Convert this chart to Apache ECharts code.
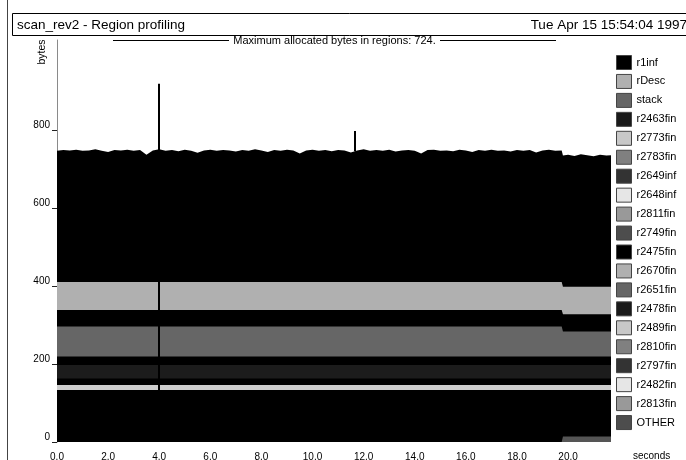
<!DOCTYPE html>
<html>
<head>
<meta charset="utf-8">
<script src="https://cdn.jsdelivr.net/npm/echarts@6/dist/echarts.min.js"></script>
<style>
  html, body { margin: 0; padding: 0; background: #fff; }
  #chart { width: 686px; height: 460px; }
</style>
</head>
<body>
<div id="chart"></div>
<script>
// Sample times, seconds
const seconds = [
  0,0.25,0.5,0.75,1,1.25,1.5,1.75,2,2.25,2.5,2.75,3,3.25,3.5,3.75,4,4.25,4.5,4.75,
  5,5.25,5.5,5.75,6,6.25,6.5,6.75,7,7.25,7.5,7.75,8,8.25,8.5,8.75,9,9.25,9.5,9.75,
  10,10.25,10.5,10.75,11,11.25,11.5,11.75,12,12.25,12.5,12.75,13,13.25,13.5,13.75,14,14.25,14.5,14.75,
  15,15.25,15.5,15.75,16,16.25,16.5,16.75,17,17.25,17.5,17.75,18,18.25,18.5,18.75,19,19.25,19.5,19.75,
  19.8,20,20.25,20.5,20.75,21,21.25,21.5,21.68
];

// Bytes held in each region at every sample
const r1inf = [
  336,338,337,339,336,337,340,336,333,338,337,339,336,338,326,337,340,336,338,335,
  339,336,331,337,339,336,338,337,334,338,336,340,337,333,338,336,339,337,329,337,
  339,336,338,335,338,337,332,337,340,336,338,336,339,334,337,338,336,329,338,339,
  336,337,335,339,337,333,338,336,339,336,337,334,338,336,338,332,337,339,336,337,
  336,338,335,339,337,334,338,336,337
];
const rDesc = [
  72,72,72,72,72,72,72,72,72,72,72,72,72,72,72,72,72,72,72,72,
  72,72,72,72,72,72,72,72,72,72,72,72,72,72,72,72,72,72,72,72,
  72,72,72,72,72,72,72,72,72,72,72,72,72,72,72,72,72,72,72,72,
  72,72,72,72,72,72,72,72,72,72,72,72,72,72,72,72,72,72,72,72,
  71,71,71,71,71,71,71,71,71
];
const r2475fin = [
  42,42,42,42,42,42,42,42,42,42,42,42,42,42,42,42,42,42,42,42,
  42,42,42,42,42,42,42,42,42,42,42,42,42,42,42,42,42,42,42,42,
  42,42,42,42,42,42,42,42,42,42,42,42,42,42,42,42,42,42,42,42,
  42,42,42,42,42,42,42,42,42,42,42,42,42,42,42,42,42,42,42,42,
  44,44,44,44,44,44,44,44,44
];
const stack = [
  77,77,77,77,77,77,77,77,77,77,77,77,77,77,77,77,77,77,77,77,
  77,77,77,77,77,77,77,77,77,77,77,77,77,77,77,77,77,77,77,77,
  77,77,77,77,77,77,77,77,77,77,77,77,77,77,77,77,77,77,77,77,
  77,77,77,77,77,77,77,77,77,77,77,77,77,77,77,77,77,77,77,77,
  64,64,64,64,64,64,64,64,64
];
const r2478fin = [
  22,22,22,22,22,22,22,22,22,22,22,22,22,22,22,22,22,22,22,22,
  22,22,22,22,22,22,22,22,22,22,22,22,22,22,22,22,22,22,22,22,
  22,22,22,22,22,22,22,22,22,22,22,22,22,22,22,22,22,22,22,22,
  22,22,22,22,22,22,22,22,22,22,22,22,22,22,22,22,22,22,22,22,
  22,22,22,22,22,22,22,22,22
];
const r2463fin = [
  34,34,34,34,34,34,34,34,34,34,34,34,34,34,34,34,34,34,34,34,
  34,34,34,34,34,34,34,34,34,34,34,34,34,34,34,34,34,34,34,34,
  34,34,34,34,34,34,34,34,34,34,34,34,34,34,34,34,34,34,34,34,
  34,34,34,34,34,34,34,34,34,34,34,34,34,34,34,34,34,34,34,34,
  34,34,34,34,34,34,34,34,34
];
const r2797fin = [
  17,17,17,17,17,17,17,17,17,17,17,17,17,17,17,17,17,17,17,17,
  17,17,17,17,17,17,17,17,17,17,17,17,17,17,17,17,17,17,17,17,
  17,17,17,17,17,17,17,17,17,17,17,17,17,17,17,17,17,17,17,17,
  17,17,17,17,17,17,17,17,17,17,17,17,17,17,17,17,17,17,17,17,
  17,17,17,17,17,17,17,17,17
];
const r2773fin = [
  13,13,13,13,13,13,13,13,13,13,13,13,13,13,13,13,13,13,13,13,
  13,13,13,13,13,13,13,13,13,13,13,13,13,13,13,13,13,13,13,13,
  13,13,13,13,13,13,13,13,13,13,13,13,13,13,13,13,13,13,13,13,
  13,13,13,13,13,13,13,13,13,13,13,13,13,13,13,13,13,13,13,13,
  13,13,13,13,13,13,13,13,13
];
const r2783fin = [
  12,12,12,12,12,12,12,12,12,12,12,12,12,12,12,12,12,12,12,12,
  12,12,12,12,12,12,12,12,12,12,12,12,12,12,12,12,12,12,12,12,
  12,12,12,12,12,12,12,12,12,12,12,12,12,12,12,12,12,12,12,12,
  12,12,12,12,12,12,12,12,12,12,12,12,12,12,12,12,12,12,12,12,
  12,12,12,12,12,12,12,12,12
];
const r2649inf = [
  12,12,12,12,12,12,12,12,12,12,12,12,12,12,12,12,12,12,12,12,
  12,12,12,12,12,12,12,12,12,12,12,12,12,12,12,12,12,12,12,12,
  12,12,12,12,12,12,12,12,12,12,12,12,12,12,12,12,12,12,12,12,
  12,12,12,12,12,12,12,12,12,12,12,12,12,12,12,12,12,12,12,12,
  12,12,12,12,12,12,12,12,12
];
const r2648inf = [
  11,11,11,11,11,11,11,11,11,11,11,11,11,11,11,11,11,11,11,11,
  11,11,11,11,11,11,11,11,11,11,11,11,11,11,11,11,11,11,11,11,
  11,11,11,11,11,11,11,11,11,11,11,11,11,11,11,11,11,11,11,11,
  11,11,11,11,11,11,11,11,11,11,11,11,11,11,11,11,11,11,11,11,
  11,11,11,11,11,11,11,11,11
];
const r2811fin = [
  12,12,12,12,12,12,12,12,12,12,12,12,12,12,12,12,12,12,12,12,
  12,12,12,12,12,12,12,12,12,12,12,12,12,12,12,12,12,12,12,12,
  12,12,12,12,12,12,12,12,12,12,12,12,12,12,12,12,12,12,12,12,
  12,12,12,12,12,12,12,12,12,12,12,12,12,12,12,12,12,12,12,12,
  12,12,12,12,12,12,12,12,12
];
const r2749fin = [
  11,11,11,11,11,11,11,11,11,11,11,11,11,11,11,11,11,11,11,11,
  11,11,11,11,11,11,11,11,11,11,11,11,11,11,11,11,11,11,11,11,
  11,11,11,11,11,11,11,11,11,11,11,11,11,11,11,11,11,11,11,11,
  11,11,11,11,11,11,11,11,11,11,11,11,11,11,11,11,11,11,11,11,
  11,11,11,11,11,11,11,11,11
];
const r2670fin = [
  11,11,11,11,11,11,11,11,11,11,11,11,11,11,11,11,11,11,11,11,
  11,11,11,11,11,11,11,11,11,11,11,11,11,11,11,11,11,11,11,11,
  11,11,11,11,11,11,11,11,11,11,11,11,11,11,11,11,11,11,11,11,
  11,11,11,11,11,11,11,11,11,11,11,11,11,11,11,11,11,11,11,11,
  11,11,11,11,11,11,11,11,11
];
const r2651fin = [
  12,12,12,12,12,12,12,12,12,12,12,12,12,12,12,12,12,12,12,12,
  12,12,12,12,12,12,12,12,12,12,12,12,12,12,12,12,12,12,12,12,
  12,12,12,12,12,12,12,12,12,12,12,12,12,12,12,12,12,12,12,12,
  12,12,12,12,12,12,12,12,12,12,12,12,12,12,12,12,12,12,12,12,
  12,12,12,12,12,12,12,12,12
];
const r2489fin = [
  10,10,10,10,10,10,10,10,10,10,10,10,10,10,10,10,10,10,10,10,
  10,10,10,10,10,10,10,10,10,10,10,10,10,10,10,10,10,10,10,10,
  10,10,10,10,10,10,10,10,10,10,10,10,10,10,10,10,10,10,10,10,
  10,10,10,10,10,10,10,10,10,10,10,10,10,10,10,10,10,10,10,10,
  10,10,10,10,10,10,10,10,10
];
const r2810fin = [
  12,12,12,12,12,12,12,12,12,12,12,12,12,12,12,12,12,12,12,12,
  12,12,12,12,12,12,12,12,12,12,12,12,12,12,12,12,12,12,12,12,
  12,12,12,12,12,12,12,12,12,12,12,12,12,12,12,12,12,12,12,12,
  12,12,12,12,12,12,12,12,12,12,12,12,12,12,12,12,12,12,12,12,
  12,12,12,12,12,12,12,12,12
];
const r2482fin = [
  10,10,10,10,10,10,10,10,10,10,10,10,10,10,10,10,10,10,10,10,
  10,10,10,10,10,10,10,10,10,10,10,10,10,10,10,10,10,10,10,10,
  10,10,10,10,10,10,10,10,10,10,10,10,10,10,10,10,10,10,10,10,
  10,10,10,10,10,10,10,10,10,10,10,10,10,10,10,10,10,10,10,10,
  10,10,10,10,10,10,10,10,10
];
const r2813fin = [
  20,20,20,20,20,20,20,20,20,20,20,20,20,20,20,20,20,20,20,20,
  20,20,20,20,20,20,20,20,20,20,20,20,20,20,20,20,20,20,20,20,
  20,20,20,20,20,20,20,20,20,20,20,20,20,20,20,20,20,20,20,20,
  20,20,20,20,20,20,20,20,20,20,20,20,20,20,20,20,20,20,20,20,
  6,6,6,6,6,6,6,6,6
];
const OTHER = [
  0,0,0,0,0,0,0,0,0,0,0,0,0,0,0,0,0,0,0,0,
  0,0,0,0,0,0,0,0,0,0,0,0,0,0,0,0,0,0,0,0,
  0,0,0,0,0,0,0,0,0,0,0,0,0,0,0,0,0,0,0,0,
  0,0,0,0,0,0,0,0,0,0,0,0,0,0,0,0,0,0,0,0,
  14,14,14,14,14,14,14,14,14
];

// Short allocation peaks: [time, from bytes, to bytes]
const peaks = [
  [4.0, 0, 918],
  [11.66, 745, 797]
];

// Axis tick values
const secondTicks = [0, 2, 4, 6, 8, 10, 12, 14, 16, 18, 20];
const byteTicks = [0, 200, 400, 600, 800];

// Legend order (as listed by the profiler)
const legendOrder = ['r1inf','rDesc','stack','r2463fin','r2773fin','r2783fin','r2649inf','r2648inf','r2811fin','r2749fin',
                     'r2475fin','r2670fin','r2651fin','r2478fin','r2489fin','r2810fin','r2797fin','r2482fin','r2813fin','OTHER'];

// Stacking order, bottom to top
const bands = [
  ['OTHER', OTHER], ['r2813fin', r2813fin], ['r2482fin', r2482fin], ['r2810fin', r2810fin],
  ['r2489fin', r2489fin], ['r2651fin', r2651fin], ['r2670fin', r2670fin], ['r2749fin', r2749fin],
  ['r2811fin', r2811fin], ['r2648inf', r2648inf], ['r2649inf', r2649inf], ['r2783fin', r2783fin],
  ['r2773fin', r2773fin], ['r2797fin', r2797fin], ['r2463fin', r2463fin], ['r2478fin', r2478fin],
  ['stack', stack], ['r2475fin', r2475fin], ['rDesc', rDesc], ['r1inf', r1inf]
];

// Gray-level palette cycled over the legend
const grayCycle = ['#000000','#b0b0b0','#666666','#1a1a1a','#c8c8c8','#808080','#333333','#e6e6e6','#999999','#4d4d4d'];
const legendColor = {};
legendOrder.forEach((n, i) => { legendColor[n] = grayCycle[i % grayCycle.length]; });

// Fill used for the bands; thin, fast-changing regions render as solid black
const bandFill = { rDesc: '#b0b0b0', stack: '#666666', r2463fin: '#1c1c1c', r2773fin: '#cdcdcd', OTHER: '#555555' };

const FONT = '"Liberation Sans", Arial, Helvetica, sans-serif';

// Cumulative tops for each band
let running = seconds.map(() => 0);
const layers = bands.map(([name, vals]) => {
  running = running.map((s, i) => s + vals[i]);
  return { name, tops: running.slice() };
});

// Draw the tallest layer first so lower layers paint over it
const series = layers.slice().reverse().map(layer => {
  const s = {
    name: layer.name,
    type: 'line',
    data: seconds.map((t, i) => [t, layer.tops[i]]),
    showSymbol: false,
    symbol: 'none',
    silent: true,
    animation: false,
    lineStyle: { width: 0, color: legendColor[layer.name] },
    itemStyle: { color: legendColor[layer.name] },
    areaStyle: { color: bandFill[layer.name] || '#000000', opacity: 1 },
    emphasis: { disabled: true }
  };
  if (layer.name === 'r1inf') {
    s.markLine = {
      silent: true,
      symbol: 'none',
      animation: false,
      label: { show: false },
      lineStyle: { color: '#000', width: 2, type: 'solid' },
      data: peaks.map(([t, a, b]) => [{ coord: [t, a] }, { coord: [t, b] }])
    };
  }
  return s;
});

const chart = echarts.init(document.getElementById('chart'), null, { renderer: 'canvas' });
chart.setOption({
  animation: false,
  backgroundColor: '#ffffff',
  textStyle: { fontFamily: FONT },
  grid: { left: 57, right: 75, top: 40, bottom: 18, containLabel: false, outerBoundsMode: 'none' },
  xAxis: {
    type: 'value', min: 0, max: 21.68, interval: 2,
    axisLine: { show: false },
    axisTick: { show: false },
    splitLine: { show: false },
    axisLabel: { customValues: secondTicks, formatter: v => v.toFixed(1), fontSize: 10, color: '#000', margin: 10, fontFamily: FONT }
  },
  yAxis: {
    type: 'value', min: 0, max: 1030, interval: 200,
    axisLine: { show: true, lineStyle: { color: '#8a8a8a', width: 1 } },
    axisTick: { show: true, customValues: byteTicks, length: 5, lineStyle: { color: '#222' } },
    axisLabel: { customValues: byteTicks, fontSize: 10, color: '#000', margin: 7, verticalAlign: 'bottom', fontFamily: FONT },
    splitLine: { show: false }
  },
  legend: {
    orient: 'vertical', left: 616, top: 55, padding: 0,
    itemWidth: 15, itemHeight: 14, itemGap: 3.95,
    icon: 'rect', data: legendOrder, selectedMode: false,
    itemStyle: { borderColor: '#444', borderWidth: 1 },
    textStyle: { fontSize: 11, lineHeight: 12, color: '#000', fontFamily: FONT }
  },
  graphic: [
    { type: 'line', shape: { x1: 7.5, y1: 0, x2: 7.5, y2: 460 }, style: { stroke: '#444', lineWidth: 1 } },
    { type: 'rect', shape: { x: 12.5, y: 13.5, width: 700, height: 22 }, style: { fill: null, stroke: '#000', lineWidth: 1 } },
    { type: 'text', x: 17, y: 25, style: { text: 'scan_rev2 - Region profiling', fontSize: 13.5, fontFamily: FONT, fill: '#000', verticalAlign: 'middle' } },
    { type: 'text', x: 687, y: 25, style: { text: 'Tue Apr 15 15:54:04 1997', fontSize: 13.5, fontFamily: FONT, fill: '#000', align: 'right', verticalAlign: 'middle' } },
    { type: 'line', shape: { x1: 113, y1: 40.5, x2: 229, y2: 40.5 }, style: { stroke: '#000', lineWidth: 1 } },
    { type: 'line', shape: { x1: 440, y1: 40.5, x2: 556, y2: 40.5 }, style: { stroke: '#000', lineWidth: 1 } },
    { type: 'text', x: 334.5, y: 41, style: { text: 'Maximum allocated bytes in regions: 724.', fontSize: 11, fontFamily: FONT, fill: '#000', align: 'center', verticalAlign: 'middle' } },
    { type: 'text', x: 42, y: 52, rotation: Math.PI / 2, style: { text: 'bytes', fontSize: 10.5, fontFamily: FONT, fill: '#000', align: 'center', verticalAlign: 'middle' } },
    { type: 'text', x: 633, y: 456, style: { text: 'seconds', fontSize: 10, fontFamily: FONT, fill: '#000', verticalAlign: 'middle' } }
  ],
  series: series
});
</script>
</body>
</html>
